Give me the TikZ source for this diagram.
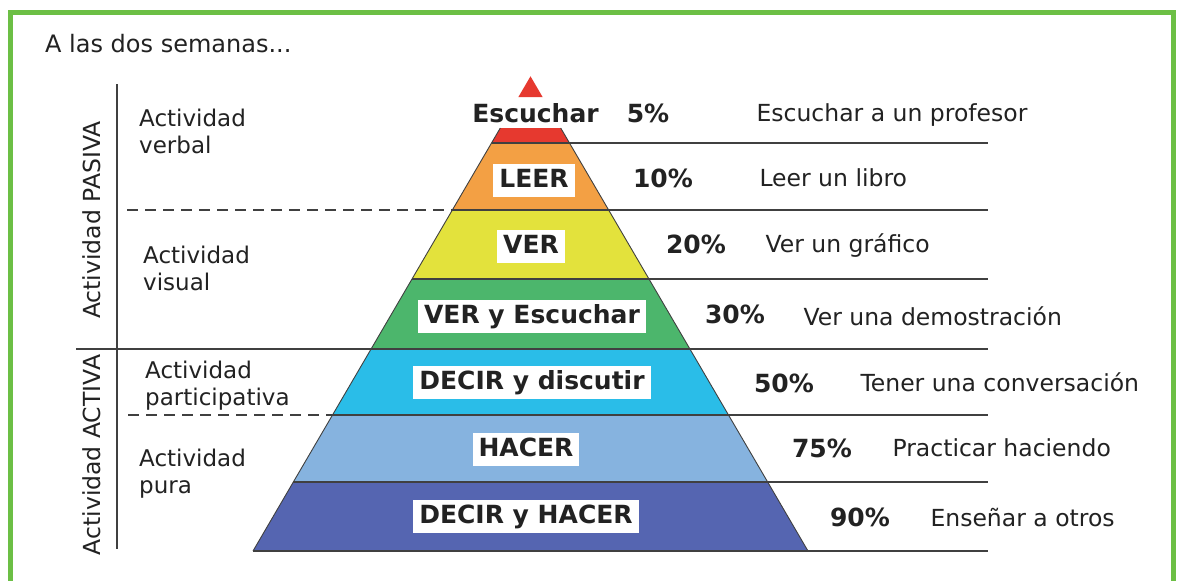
\documentclass[tikz,border=0pt]{standalone}
\usepackage{fontspec}
\setmainfont{DejaVu Sans}
\definecolor{frame}{HTML}{6CBF45}
\definecolor{cred}{HTML}{E6392F}
\definecolor{corange}{HTML}{F3A044}
\definecolor{cyellow}{HTML}{E3E23C}
\definecolor{cgreen}{HTML}{4CB66C}
\definecolor{ccyan}{HTML}{2ABDE8}
\definecolor{clblue}{HTML}{86B3DF}
\definecolor{cdblue}{HTML}{5565B1}
\definecolor{ink}{HTML}{222222}
\definecolor{rule}{HTML}{404040}
\begin{document}
\begin{tikzpicture}[x=1pt,y=-1pt,
  ln/.style={draw=rule,line width=1.3pt},
  dln/.style={draw=rule,line width=1.3pt,dash pattern=on 11pt off 7pt},
  edge/.style={draw=rule,line width=0.9pt},
  lbl/.style={fill=white,text=ink,font=\bfseries\fontsize{25}{30}\selectfont,inner xsep=6pt,inner ysep=5pt,text height=18.5pt,text depth=5pt,anchor=base},
  pct/.style={text=ink,font=\bfseries\fontsize{25}{30}\selectfont,anchor=base},
  desc/.style={text=ink,font=\fontsize{23.5}{28}\selectfont,anchor=base west},
  side/.style={text=ink,font=\fontsize{23}{27}\selectfont,align=left,anchor=north west,inner sep=0pt},
  vside/.style={text=ink,font=\fontsize{23.5}{28}\selectfont,rotate=90,anchor=base,inner sep=0pt},
]
\useasboundingbox (0,0) rectangle (1179,581);
\clip (0,0) rectangle (1179,581);
\fill[white] (0,0) rectangle (1179,581);
\draw[frame,line width=5pt] (10,620) -- (10,12) -- (1173,12) -- (1173,620);

% pyramid geometry
\coordinate (apex) at (530.5,76.3);
\coordinate (t1) at (518.4,97);   \coordinate (t2) at (542.6,97);
\coordinate (a1) at (500.3,128);  \coordinate (a2) at (560.7,128);
\coordinate (b1) at (491.6,143);  \coordinate (b2) at (569.4,143);
\coordinate (c1) at (452.3,210);  \coordinate (c2) at (608.7,210);
\coordinate (d1) at (412.0,279);  \coordinate (d2) at (649.0,279);
\coordinate (e1) at (371.1,349);  \coordinate (e2) at (689.9,349);
\coordinate (f1) at (332.5,415);  \coordinate (f2) at (728.5,415);
\coordinate (g1) at (293.3,482);  \coordinate (g2) at (767.7,482);
\coordinate (h1) at (253.0,551);  \coordinate (h2) at (808.0,551);

\fill[cred] (apex) -- (t2) -- (t1) -- cycle;
\fill[cred] (a1) -- (a2) -- (b2) -- (b1) -- cycle;
\fill[corange] (b1) -- (b2) -- (c2) -- (c1) -- cycle;
\fill[cyellow] (c1) -- (c2) -- (d2) -- (d1) -- cycle;
\fill[cgreen] (d1) -- (d2) -- (e2) -- (e1) -- cycle;
\fill[ccyan] (e1) -- (e2) -- (f2) -- (f1) -- cycle;
\fill[clblue] (f1) -- (f2) -- (g2) -- (g1) -- cycle;
\fill[cdblue] (g1) -- (g2) -- (h2) -- (h1) -- cycle;
\draw[edge] (a1) -- (h1);
\draw[edge] (a2) -- (h2);

% right ends of rules
\coordinate (rb) at (988,143);
\coordinate (rc) at (988,210);
\coordinate (rd) at (988,279);
\coordinate (re) at (988,349);
\coordinate (rf) at (988,415);
\coordinate (rg) at (988,482);
\coordinate (rh) at (988,551);
\coordinate (lc) at (127,210);
\coordinate (le) at (76,349);
\coordinate (lf) at (128,415);
\coordinate (vt) at (117,84);
\coordinate (vb) at (117,549);

\draw[ln] (b1) -- (rb);
\draw[ln] (c1) -- (rc);
\draw[ln] (d1) -- (rd);
\draw[ln] (le) -- (re);
\draw[ln] (f1) -- (rf);
\draw[ln] (g1) -- (rg);
\draw[ln] (h1) -- (rh);
\draw[dln] (lc) -- (c1);
\draw[dln] (lf) -- (f1);
\draw[ln] (vt) -- (vb);

% title
\node[text=ink,font=\fontsize{24}{28}\selectfont,anchor=base west,inner sep=0pt] (title) at (45,52.5) {A las dos semanas...};

% side labels
\node[vside] (pasiva) at (100,220) {Actividad PASIVA};
\node[vside] (activa) at (100,455) {Actividad ACTIVA};
\node[side] (verbal) at (139,109) {Actividad\\verbal};
\node[side] (visual) at (143,246) {Actividad\\visual};
\node[side] (partic) at (145,361) {Actividad\\participativa};
\node[side] (pura) at (139,449) {Actividad\\pura};

% pyramid labels
\node[pct] (escuchar) at (535.5,122) {Escuchar};
\node[lbl] (leer) at (534,187) {LEER};
\node[lbl] (ver) at (531,253) {VER};
\node[lbl] (veresc) at (532,323) {VER y Escuchar};
\node[lbl] (decdis) at (532,389) {DECIR y discutir};
\node[lbl] (hacer) at (526,456) {HACER};
\node[lbl] (dechac) at (526,523) {DECIR y HACER};

% percentages
\node[pct] (p5) at (648,122) {5\%};
\node[pct] (p10) at (663,187) {10\%};
\node[pct] (p20) at (696,253) {20\%};
\node[pct] (p30) at (735,323) {30\%};
\node[pct] (p50) at (784,392) {50\%};
\node[pct] (p75) at (822,457) {75\%};
\node[pct] (p90) at (860,526) {90\%};

% descriptions
\node[desc] (d5) at (753,121) {Escuchar a un profesor};
\node[desc] (d10) at (756,186) {Leer un libro};
\node[desc] (d20) at (762,252) {Ver un gráfico};
\node[desc] (d30) at (800,325) {Ver una demostración};
\node[desc] (d50) at (857,391) {Tener una conversación};
\node[desc] (d75) at (889,456) {Practicar haciendo};
\node[desc] (d90) at (927,526) {Enseñar a otros};
\end{tikzpicture}
\end{document}
